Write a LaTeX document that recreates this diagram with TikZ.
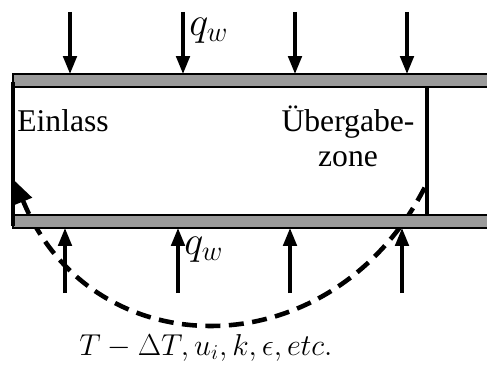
\documentclass[tikz,border=0pt]{standalone}
\usepackage{fontspec}
\usepackage{fix-cm}
\setmainfont{Liberation Serif}
\usetikzlibrary{arrows.meta}
\usetikzlibrary{positioning}
\definecolor{wallgray}{HTML}{9A9A9A}
\tikzset{>={Triangle[length=0.36cm,width=0.27cm]}}
\tikzset{
  wall/.style = {draw=black, fill=wallgray, line width=0.7pt},
  rand/.style = {line width=1.8pt},
  flux/.style = {->, line width=2pt},
  rueck/.style = {<-, line width=2.6pt, dash pattern=on 0.3cm off 0.17cm,
    >={Triangle[length=0.44cm,width=0.36cm]}},
  schrift/.style = {font=\fontsize{18}{20}\selectfont, inner sep=0pt},
  qlabel/.style = {font=\fontsize{23}{25}\selectfont, inner sep=0pt}
}

\begin{document}
\begin{tikzpicture}[x=0.02cm,y=-0.02cm]
  \useasboundingbox (0,0) rectangle (487,368);

  % Rueckfuehrung (unter den Waenden)
  \coordinate (rf_s) at (428,181);
  \coordinate (rf_e) at (15,181);
  \draw [rueck] (rf_e) .. controls (92,370) and (335,372) .. (rf_s);

  % Waende
  \draw [wall] (13,74) rectangle (492,87);
  \draw [wall] (13,215) rectangle (492,228);

  % Einlass und Uebergabezone
  \coordinate (el_o) at (13,82);
  \coordinate (el_u) at (13,226);
  \coordinate (ue_o) at (427,87);
  \coordinate (ue_u) at (427,215);
  \draw [rand] (el_o) -- (el_u);
  \draw [rand] (ue_o) -- (ue_u);

  % Waermestrom
  \foreach \i/\xo/\xu in {1/70/65, 2/183/178, 3/295/290, 4/407/402} {
    \coordinate (qo_s\i) at (\xo,12);
    \coordinate (qo_e\i) at (\xo,74);
    \coordinate (qu_s\i) at (\xu,293);
    \coordinate (qu_e\i) at (\xu,228);
    \draw [flux] (qo_s\i) -- (qo_e\i);
    \draw [flux] (qu_s\i) -- (qu_e\i);
  }
  \node [qlabel, anchor=west] (qo) at (189,31) {$q_w$};
  \node [qlabel, anchor=west] (qu) at (184,250) {$q_w$};

  \node [schrift, anchor=base west] (einlass) at (17,132) {Einlass};
  \node [schrift, anchor=base, align=center] (uebergabe) at (348,167) {Übergabe-\\zone};

  \node [schrift, font=\fontsize{17.2}{20}\selectfont, anchor=base] (werte) at (206,355)
    {$T-\Delta T, u_i, k, \epsilon, etc.$};
\end{tikzpicture}
\end{document}
